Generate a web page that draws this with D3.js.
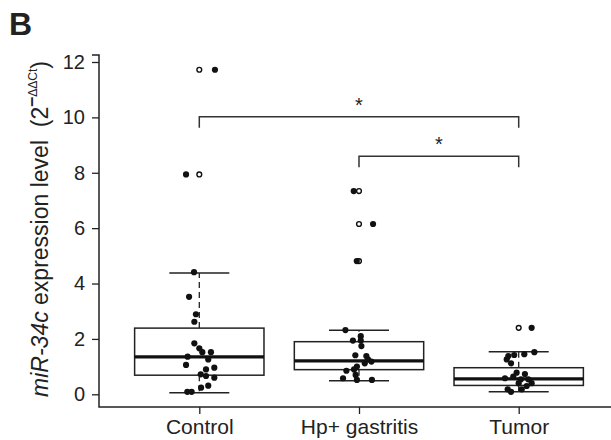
<!DOCTYPE html>
<html>
<head>
<meta charset="utf-8">
<script src="https://cdn.jsdelivr.net/npm/d3@7"></script>
<style>
body { margin: 0; background: #fff; }
text { font-family: "Liberation Sans", Arial, sans-serif; fill: #222; }
</style>
</head>
<body>
<svg id="chart"></svg>
<script>
var groups = ["Control", "Hp+ gastritis", "Tumor"];
var yTicks = [0, 2, 4, 6, 8, 10, 12];

// box stats: lower whisker, Q1, median, Q3, upper whisker
var boxStats = [
    [0.06, 0.69, 1.35, 2.39, 4.38],
    [0.49, 0.89, 1.21, 1.90, 2.31],
    [0.09, 0.32, 0.56, 0.96, 1.54]
];

// outliers drawn as open circles
var outliers = [[11.72, 7.94], [7.34, 6.15, 4.81], [2.40]];

// jittered points: values and x-jitter
var controlVals = [4.41, 3.52, 2.89, 2.62, 1.84, 1.66, 1.52, 1.52, 1.36, 1.26, 1.06, 0.90, 0.96, 0.72, 0.66, 0.60, 0.24, 0.31, 0.09, 0.09, 7.94, 11.72];
var controlJit = [-0.033, -0.064, -0.021, -0.031, -0.031, 0, 0.019, 0.073, -0.073, 0.056, -0.083, 0.042, 0.094, 0.009, 0.042, 0.094, 0.011, 0.056, -0.075, -0.048, -0.083, 0.098];
var hpVals = [2.32, 2.10, 1.94, 1.94, 1.74, 1.41, 1.38, 1.26, 1.18, 1.12, 1.00, 0.90, 0.85, 0.70, 0.58, 0.52, 0.52, 7.34, 6.15, 4.81];
var hpJit = [-0.085, 0.011, -0.038, 0.011, 0.015, -0.023, 0.046, 0.056, 0.078, 0.036, -0.013, -0.031, -0.079, -0.021, -0.1, -0.013, 0.081, -0.033, 0.088, -0.014];
var tumorVals = [1.52, 1.45, 1.42, 1.38, 1.26, 1.12, 0.78, 0.73, 0.64, 0.58, 0.54, 0.54, 0.40, 0.40, 0.30, 0.18, 0.09, 0.18, 2.40];
var tumorJit = [0.098, 0.035, -0.028, -0.065, -0.075, -0.048, -0.013, 0.039, -0.034, -0.086, 0.014, 0.06, 0, 0.081, 0.05, -0.069, -0.048, 0.019, 0.081];

// significance brackets: from group, to group, level, star label
var brackets = [[0, 2, 10.02, "*"], [1, 2, 8.6, "*"]];

var width = 611, height = 440;
var svg = d3.select("#chart").attr("width", width).attr("height", height);

var xScale = d3.scaleLinear().domain([0, 2]).range([199.3, 518.7]);
var yScale = d3.scaleLinear().domain([0, 12]).range([394.3, 62]);
var unit = xScale(1) - xScale(0);
var boxW = 0.81 * unit, capW = 60;
var axisY = 407;
var ink = "#222";

// y axis
var yAxis = svg.append("g").attr("transform", "translate(99,0)")
    .call(d3.axisLeft(yScale).tickValues(yTicks).tickSize(7).tickPadding(7));
yAxis.select(".domain").remove();
yAxis.selectAll("line").attr("stroke", ink).attr("stroke-width", 1.3);
yAxis.selectAll("text").style("font-size", "20px").style("font-family", "Liberation Sans, Arial, sans-serif").attr("fill", ink);
// axis frame
svg.append("path")
    .attr("d", "M92," + yScale(12.25) + "H99V" + axisY + "H611")
    .attr("fill", "none").attr("stroke", ink).attr("stroke-width", 1.5);

// x axis
var xAxis = svg.append("g").attr("transform", "translate(0," + axisY + ")")
    .call(d3.axisBottom(xScale).tickValues([0, 1, 2]).tickFormat(function(i){ return groups[i]; }).tickSize(7).tickPadding(5));
xAxis.select(".domain").remove();
xAxis.selectAll("line").attr("stroke", ink).attr("stroke-width", 1.3);
xAxis.selectAll("text").style("font-size", "21px").style("font-family", "Liberation Sans, Arial, sans-serif").attr("fill", ink);

// y label
var ylab = svg.append("text")
    .attr("transform", "translate(48,229) rotate(-90)")
    .attr("text-anchor", "middle")
    .style("font-size", "23px");
ylab.append("tspan").style("font-style", "italic").text("miR-34c");
ylab.append("tspan").text(" expression level\u00a0\u00a0(2");
ylab.append("tspan").attr("dy", -11).style("font-size", "18px").style("font-weight", "bold").text("\u2013");
ylab.append("tspan").style("font-size", "12px").text("\u0394\u0394Ct");
ylab.append("tspan").attr("dy", 11).text(")");

// panel letter
svg.append("text").attr("x", 9).attr("y", 35)
    .style("font-size", "32px").style("font-weight", "bold").attr("fill", "#111").text("B");

// boxes
var boxes = svg.selectAll(".box").data(boxStats).enter().append("g").attr("class", "box");
boxes.append("line").attr("x1", function(d, i){ return xScale(i); }).attr("x2", function(d, i){ return xScale(i); })
    .attr("y1", function(d){ return yScale(d[3]); }).attr("y2", function(d){ return yScale(d[4]); })
    .attr("stroke", ink).attr("stroke-width", 1.3).attr("stroke-dasharray", "6,4");
boxes.append("line").attr("x1", function(d, i){ return xScale(i); }).attr("x2", function(d, i){ return xScale(i); })
    .attr("y1", function(d){ return yScale(d[1]); }).attr("y2", function(d){ return yScale(d[0]); })
    .attr("stroke", ink).attr("stroke-width", 1.3).attr("stroke-dasharray", "6,4");
[0, 4].forEach(function(k){
    boxes.append("line").attr("x1", function(d, i){ return xScale(i) - capW / 2; }).attr("x2", function(d, i){ return xScale(i) + capW / 2; })
        .attr("y1", function(d){ return yScale(d[k]); }).attr("y2", function(d){ return yScale(d[k]); })
        .attr("stroke", ink).attr("stroke-width", 1.5);
});
boxes.append("rect").attr("x", function(d, i){ return xScale(i) - boxW / 2; }).attr("width", boxW)
    .attr("y", function(d){ return yScale(d[3]); }).attr("height", function(d){ return yScale(d[1]) - yScale(d[3]); })
    .attr("fill", "none").attr("stroke", ink).attr("stroke-width", 1.5);
boxes.append("line").attr("x1", function(d, i){ return xScale(i) - boxW / 2; }).attr("x2", function(d, i){ return xScale(i) + boxW / 2; })
    .attr("y1", function(d){ return yScale(d[2]); }).attr("y2", function(d){ return yScale(d[2]); })
    .attr("stroke", "#111").attr("stroke-width", 3.2);

// open outlier circles
outliers.forEach(function(vals, i){
    svg.selectAll(null).data(vals).enter().append("circle")
        .attr("cx", xScale(i)).attr("cy", function(v){ return yScale(v); }).attr("r", 2.4)
        .attr("fill", "#fff").attr("stroke", "#111").attr("stroke-width", 1.4);
});

// jittered points
var pts = [[controlVals, controlJit], [hpVals, hpJit], [tumorVals, tumorJit]];
pts.forEach(function(p, i){
    svg.selectAll(null).data(p[0]).enter().append("circle")
        .attr("cx", function(v, j){ return xScale(i + p[1][j]); })
        .attr("cy", function(v){ return yScale(v); })
        .attr("r", 3.1).attr("fill", "#111");
});

// significance brackets
brackets.forEach(function(b){
    var y = yScale(b[2]), drop = 11;
    svg.append("path")
        .attr("d", "M" + xScale(b[0]) + "," + (y + drop) + "V" + y + "H" + xScale(b[1]) + "V" + (y + drop))
        .attr("fill", "none").attr("stroke", "#333").attr("stroke-width", 1.5);
    svg.append("text").attr("x", (xScale(b[0]) + xScale(b[1])) / 2).attr("y", y - 5)
        .attr("text-anchor", "middle").style("font-size", "20px").style("fill", "#222").text(b[3]);
});
</script>
</body>
</html>
